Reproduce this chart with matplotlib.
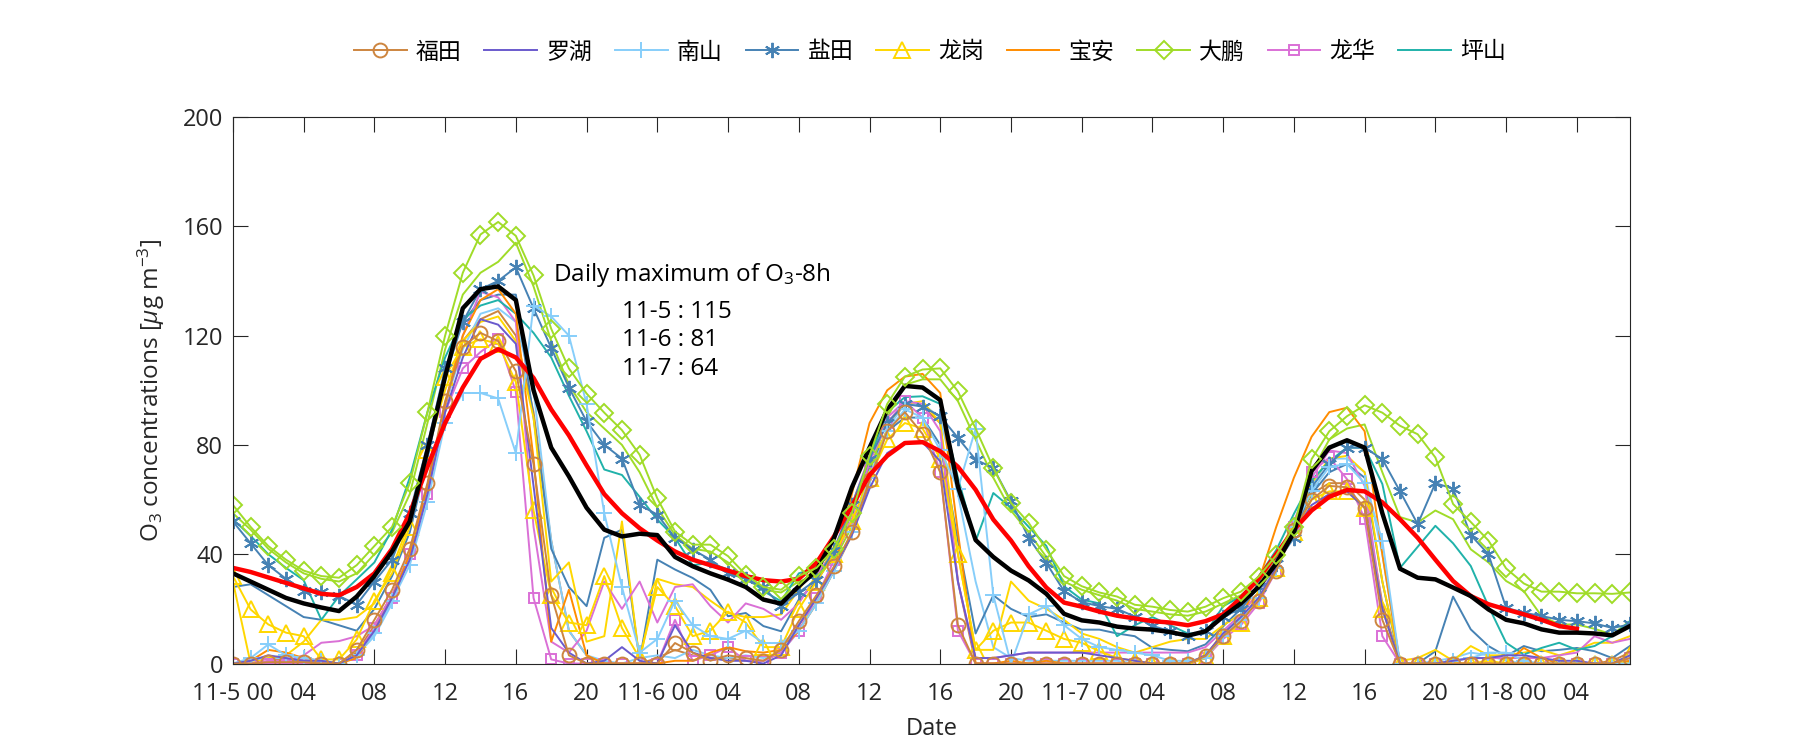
import numpy as np
import matplotlib
matplotlib.use('Agg')
import matplotlib.pyplot as plt

plt.rcParams['font.family'] = ['Open Sans', 'Noto Sans CJK SC', 'DejaVu Sans']
plt.rcParams['mathtext.fontset'] = 'custom'
plt.rcParams['mathtext.rm'] = 'Open Sans'
plt.rcParams['mathtext.it'] = 'Open Sans:italic'

# hourly, 11-5 00 .. 11-8 07
hours = np.arange(80)

stations = ['福田', '罗湖', '南山', '盐田', '龙岗', '宝安', '大鹏', '龙华', '坪山']

futian = [0, 0, 0.5, 0.5, 0.5, 0, 0, 5, 16, 27, 42, 66, 96, 116, 121, 118, 107, 73, 25, 3, 0, 0, 0, 0,
          0, 7.5, 4, 1, 3, 2, 1, 5, 15.5, 25, 35.6, 48, 67, 85, 92, 84, 70, 14, 0, 0, 0, 0, 0, 0,
          0, 0, 0, 0, 0, 0, 0, 2.7, 10, 15.4, 23, 34, 48.7, 60, 65, 64.5, 57, 16, 0, 0, 0, 0, 0, 0,
          0, 0, 0, 0, 0, 0, 0, 2]
luohu = [0, 1, 3, 2, 1, 1, 0, 3, 12, 24, 38, 62, 92, 112, 126, 124, 117, 65, 13, 4, 0, 1, 6, 1,
         0, 14, 4, 2, 1, 1, 0, 3, 14, 24, 35, 47, 64, 77, 81, 81, 74, 30, 2, 2, 3, 4, 4, 4,
         4, 3, 2, 1, 0, 0, 0, 3, 11, 17, 24, 35, 48, 58, 62, 63, 57, 20, 0, 0, 0, 1, 2, 2,
         3, 3, 2, 1, 1, 0, 0, 3]
nanshan = [0, 2, 7, 3, 2, 1, 0, 3, 11, 23, 36, 59, 88, 99, 99, 97, 77, 131, 127, 120, 95, 55, 28, 4,
           9, 23, 14, 10, 9, 12, 7.5, 7.5, 12, 22, 34, 48, 68, 85, 93, 90, 78, 64, 86, 25, 0, 18, 21, 14,
           9, 6, 5, 4, 3, 1, 1, 2, 10, 16, 24, 35, 50, 63, 72, 73, 66, 45, 0, 0, 0, 1, 2, 4,
           4, 1, 0, 0, 0, 0, 0, 0]
yantian = [52, 44, 36, 31, 26.5, 26, 24.7, 21.6, 30, 38, 55, 80, 108, 125, 137, 140, 145, 130, 115.5, 101, 88.6, 80, 75, 58,
           54.5, 46, 41.7, 38, 33, 31, 28, 21, 26, 30.7, 41.7, 58, 75, 88, 95, 94, 90.5, 82.6, 74.6, 71.6, 59.4, 46, 36.8, 26.5,
           22.5, 21, 20, 17.2, 13.8, 11.8, 10, 11.8, 17.2, 20, 28, 36.6, 46, 64.5, 73, 79, 79, 74.8, 63, 51, 66, 64, 47, 40,
           20.4, 18.6, 17.4, 16, 15.5, 14.7, 13, 14.3]
longgang = [32, 19.8, 14.3, 11.3, 10, 1.5, 1.5, 8.8, 23, 33, 50, 78, 105, 116, 118.7, 117, 103, 56, 25, 15, 14, 32, 13, 2,
            28, 21, 10, 12, 19, 15, 6, 6, 20, 30, 40, 52, 68, 82, 88, 86, 75, 40, 5, 12, 15, 15, 12, 9,
            7.6, 4.5, 2, 1, 0, 0, 0, 2, 10, 15, 24, 35, 48, 60, 63, 63, 57, 20, 0, 0, 0, 0, 0, 1,
            0, 0, 0, 0, 0, 0, 0, 3]
baoan = [0, 1, 5, 4, 2, 1, 0, 2, 12, 24, 40, 65, 95, 120, 133, 137, 128, 75, 8, 27, 3, 0, 0, 0,
         0, 1, 1, 4, 6, 4.5, 4, 5, 12, 22, 34, 62, 88, 100, 105, 106, 99, 48, 0, 0, 1, 0, 1, 0,
         0, 0, 0, 0, 0, 0, 0, 2, 10, 17, 30, 50, 68, 83, 92, 93.6, 85, 40, 0, 0, 0, 0, 0, 0,
         0, 5.7, 2, 0, 0, 0, 0, 1]
dapeng = [58, 50, 43, 38, 34, 32, 31.4, 36, 43, 50, 66, 92, 120, 143, 157, 161.6, 156.5, 142, 122.5, 108, 98.8, 91.8, 85.4, 76.4,
          60.4, 48.3, 43.5, 43.5, 39.3, 32.5, 28, 27, 32, 35, 42, 55, 76, 95, 105, 107.6, 108, 99.6, 86, 71.6, 58.8, 51.5, 41.7, 32,
          28.3, 26, 24.5, 21.5, 20.8, 19.6, 19, 20.8, 23.9, 26.3, 31.8, 39.6, 50, 74.8, 85, 90.5, 94.5, 91.8, 87, 83.9, 75.4, 58.4, 51.8, 45,
          34.8, 29.3, 26.3, 26.3, 25.7, 25.7, 25.5, 26]
longhua = [0, 0, 0, 0, 0, 0, 0, 3, 13, 24, 40, 62, 92, 108, 114, 118.7, 99.5, 24, 1.5, 0, 0, 0, 0, 0,
           0, 16, 1, 3, 6, 1, 1, 4, 12, 24, 38, 53, 73.6, 88, 96, 90, 70, 12, 0, 0, 0, 0, 0, 0,
           0, 0, 0, 0, 0, 0, 0, 2, 9, 14, 22, 34, 50, 70, 75.4, 67.5, 53, 10, 0, 0, 0, 0, 0, 0,
           0, 0, 0, 0, 0, 0, 0, 2]
pingshan = [52.8, 46.7, 40, 35, 30.5, 16, 24.7, 30.8, 37, 49, 68, 92, 112, 126, 131, 133, 128, 121, 112, 98, 85, 71, 69, 61,
            52.7, 46, 36, 36.8, 34.4, 32, 26.5, 22.8, 33, 35, 41.7, 55, 75, 92, 97.5, 97.8, 95, 68, 44.8, 62.4, 57, 50, 43, 28.3,
            23.4, 22, 10, 14, 17, 14, 11, 11, 21, 24.5, 31.8, 41.5, 54.8, 67, 74, 79, 79, 65.7, 35, 42.7, 50.4, 44, 35.7, 21,
            7.6, 3.3, 5.7, 7.6, 5, 6.4, 10, 15.5]

# second group of sites, same colours, no markers
futian_2 = [0, 1, 2, 1, 1, 0.5, 0, 4, 14, 25, 40, 64, 94, 118, 126, 129, 120, 92, 45, 12, 3, 0, 0, 0,
            2, 5, 3, 2, 2, 1, 1, 4, 14, 24, 34, 47, 66, 86, 96, 94, 88, 30, 0, 0, 0, 0, 0, 0,
            0, 0, 0, 0, 0, 0, 0, 3, 11, 16, 24, 35, 50, 62, 66, 66, 60, 22, 0, 0, 0, 0, 0, 0,
            0, 0, 0, 0, 0, 0, 1, 4]
nanshan_2 = [0, 1, 2, 2, 1, 1, 0, 3, 10, 22, 40, 65, 95, 115, 128, 130, 125, 100, 45, 12, 3, 1, 0, 2,
             3, 2, 5, 3, 2, 3, 2, 4, 12, 22, 34, 48, 68, 86, 95, 95, 90, 62, 30, 6, 2, 1, 1, 1,
             1, 1, 1, 0, 0, 0, 0, 2, 10, 16, 24, 36, 52, 65, 75, 75, 70, 40, 0, 0, 1, 2, 4, 3,
             1, 0, 0, 0, 0, 0, 0, 1]
yantian_2 = [28, 29, 25, 21, 17, 16, 14, 12, 20, 32, 48, 75, 105, 125, 133, 135, 135, 90, 42, 28, 21, 46, 49, 1,
             38, 34.4, 31.3, 27, 17.3, 18.5, 13.7, 11.8, 23.4, 30, 40, 55, 72, 85, 90, 90, 80, 45, 11, 25, 20, 17, 18, 15,
             12.4, 12.4, 11, 10, 5.7, 5, 4.5, 7, 13.6, 20, 28, 38, 50, 62, 70, 73, 68, 30, 0, 0, 4.5, 24.5, 12.5, 6.4,
             2.7, 6.4, 4.5, 5, 5.7, 4.5, 2, 6.4]
longgang_2 = [30, 0, 2, 3, 8, 16, 16, 17, 22, 35, 52, 78, 100, 118, 125, 127, 118, 90, 30, 37, 8, 10, 52, 1,
              31, 29, 28, 23, 18.5, 17, 17, 18, 27, 36, 46, 58, 75, 88, 95, 96, 88, 40, 5, 5, 30, 23, 20, 16,
              11, 9, 6, 4, 6, 8, 9, 9, 14, 18, 26, 38, 52, 66, 75, 76, 70, 30, 1, 2, 5, 1, 6.4, 3,
              3, 4, 5, 3, 5, 7.6, 7.6, 10]
dapeng_2 = [55, 49, 42, 37, 33, 31, 30, 33, 40, 48, 62, 88, 115, 135, 143, 147, 154, 138, 118, 102, 92, 86, 80, 70,
            57, 47, 42, 41, 37, 31, 27, 26, 30, 32, 38, 50, 70, 90, 102, 104, 104, 96, 82, 68, 56, 48, 39, 30,
            27, 25, 23, 20, 19, 18, 17.5, 19, 22, 25, 30, 38, 48, 70, 82, 86, 87.5, 70, 53.6, 51.6, 56, 52.8, 41.8, 37,
            30.2, 26.5, 17.4, 14.3, 14.3, 12.7, 10.6, 15.5]
longhua_2 = [0, 0, 1, 1, 3, 7.6, 8.2, 10, 14, 25, 40, 62, 95, 120, 136, 134, 125, 50, 8, 4, 12, 30, 20, 30,
             15, 28, 29, 21, 15, 22, 20, 16, 22, 32, 42, 58, 76, 90, 96, 95, 85, 30, 2, 2, 3, 4, 4, 4,
             4, 4, 4, 4, 4, 4, 4, 6, 12, 18, 26, 37, 52, 68, 78, 77, 65, 20, 0, 0, 0, 1, 2, 2,
             2, 2, 2, 3, 4, 10, 7.6, 9]

mean_1h = [33, 30, 27, 24, 22, 20.5, 19.2, 24.5, 32, 41, 52, 78, 105, 130, 137, 138, 133, 100, 79, 68.5, 57, 49, 46.5, 47.5,
           47, 39, 35.6, 33, 30.7, 28, 23.4, 21.9, 28.3, 34, 46, 64.4, 79, 92.8, 101.6, 101, 96.4, 64.7, 45.2, 39, 34, 30.4, 25.5, 18.2,
           15.8, 15, 13.5, 12.8, 12.4, 11.5, 10.2, 11.8, 17.2, 22, 28, 36.6, 48, 70.5, 79, 81.7, 79, 55, 34.7, 31.4, 30.8, 27.8, 24.7, 19.8,
           16, 14.7, 12.5, 11.3, 11.3, 11, 10.3, 13.7]
mean_8h = [35, 33.5, 31.5, 29.5, 27.5, 25.5, 25, 28, 33, 42, 55, 72, 88, 101, 111.5, 115, 112, 104.5, 93, 83.5, 72.5, 62, 55, 49.5,
           45, 41, 38, 36, 34, 32, 30.5, 30, 31, 36.8, 46.6, 57.6, 69, 76, 80.7, 81, 77.7, 72, 63.6, 52.7, 45, 35.6, 27.8, 22.3,
           20.8, 19, 17.5, 16.5, 15.5, 15, 14, 15.5, 18, 24, 31, 40, 49, 56, 61, 63.5, 63, 59, 52.8, 46, 38, 30.2, 24.7, 21.7,
           19.8, 18, 16, 13.7, 12.7, np.nan, np.nan, np.nan]

o3_8h_max = {'11-5': 115, '11-6': 81, '11-7': 64}

colors = ['#CD853F', '#6A5ACD', '#87CEFA', '#4682B4', '#FFD700', '#FF8C00', '#A0DC28', '#DA70D6', '#20B2AA']
markers = ['o', None, '+', (6, 2, 0), '^', None, 'D', 's', None]
msizes = [10, 0, 11, 11, 11, 0, 9, 7, 0]
series_1 = [futian, luohu, nanshan, yantian, longgang, baoan, dapeng, longhua, pingshan]
series_2 = [(futian_2, 0), (nanshan_2, 2), (yantian_2, 3), (longgang_2, 4), (dapeng_2, 6), (longhua_2, 7)]

fig = plt.figure(figsize=(18, 7.5), dpi=100)
ax = fig.add_axes([0.1294, 0.1153, 0.7761, 0.7287])

for vals, ci in series_2:
    ax.plot(hours, vals, color=colors[ci], lw=1.4)

handles = [None] * 9
for i in range(8, -1, -1):
    if i == 6:
        continue
    h, = ax.plot(hours, series_1[i], color=colors[i], lw=1.4, marker=markers[i],
                 ms=msizes[i], mfc='none', mew=1.4)
    handles[i] = h

ax.plot(hours, mean_8h, color='#FF0000', lw=3.2)
ax.plot(hours, mean_1h, color='black', lw=3.2)
h, = ax.plot(hours, series_1[6], color=colors[6], lw=1.4, marker=markers[6],
             ms=msizes[6], mfc='none', mew=1.4)
handles[6] = h

ax.set_xlim(0, 79)
ax.set_ylim(0, 200)
ax.set_yticks([0, 40, 80, 120, 160, 200])
xt = np.arange(0, 80, 4)
xl = []
for t in xt:
    if t % 24 == 0:
        xl.append('11-{:d} 00'.format(5 + t // 24))
    else:
        xl.append('{:02d}'.format(t % 24))
ax.set_xticks(xt)
ax.set_xticklabels(xl)
ax.tick_params(direction='in', length=11, width=0.8, top=True, right=True,
               labelsize=17, colors='#262626')
ax.tick_params(axis='x', pad=13)
ax.tick_params(axis='y', pad=7)
for s in ax.spines.values():
    s.set_linewidth(0.8)
    s.set_color('#262626')

ax.set_xlabel('Date', fontsize=17, color='#262626', labelpad=8)
ax.set_ylabel(r'O$_3$ concentrations [$\mu$g m$^{-3}$]', fontsize=17.5, color='#262626', labelpad=11)

ax.text(18.1, 142, r'Daily maximum of O$_3$-8h', fontsize=17.5, va='center', ha='left')
for k, (day, v) in enumerate(o3_8h_max.items()):
    ax.text(22.0, 128.7 - 10.4 * k, '{} : {}'.format(day, v), fontsize=17.5, va='center', ha='left')

fig.legend(handles, stations, loc='center', bbox_to_anchor=(0.5166, 0.93), ncol=9, frameon=False,
           fontsize=16.5, handlelength=2.3, columnspacing=1.0, handletextpad=0.4)

fig.savefig('out.png', dpi=100)
